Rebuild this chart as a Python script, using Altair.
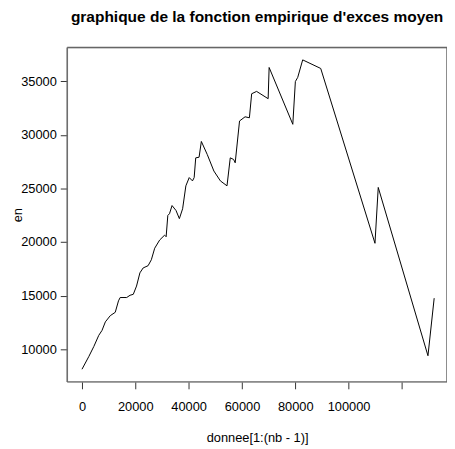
import altair as alt
import pandas as pd

x_vals = [0, 2590, 4440, 6290, 7510, 8770, 10620, 12470, 13690, 14320,
          16760, 18020, 19240, 20460, 21720, 22940, 24790, 26010, 27270, 29120,
          30970, 31560, 32190, 32820, 33780, 35260, 36520, 37740, 38960, 40220,
          41440, 42070, 42660, 43920, 44770, 46990, 49470, 51910, 54390, 55610,
          56870, 57460, 59090, 61160, 62790, 63640, 65490, 69820, 70190, 79070,
          80030, 80920, 82770, 89540, 109890, 111110, 129760, 132090]
y_vals = [8130, 9330, 10250, 11290, 11750, 12550, 13130, 13440, 14510, 14820,
          14820, 15030, 15120, 15890, 17120, 17580, 17790, 18340, 19420, 20180,
          20640, 20490, 22480, 22640, 23400, 22940, 22180, 23100, 25240, 26010,
          25700, 26010, 27850, 27910, 29380, 28160, 26620, 25700, 25240, 27850,
          27700, 27390, 31290, 31680, 31590, 33830, 34050, 33370, 36280, 30980,
          34970, 35360, 36990, 36190, 19880, 25090, 9390, 14760]

x_ticks = [0, 20000, 40000, 60000, 80000, 100000, 120000]
y_ticks = [10000, 15000, 20000, 25000, 30000, 35000]
x_domain = [-5550, 136900]
y_domain = [6950, 38150]

df = pd.DataFrame({"x": x_vals, "y": y_vals, "order": list(range(len(x_vals)))})

font = "Liberation Sans"
box = "#666666"
xscale = alt.Scale(domain=x_domain, nice=False, zero=False)
yscale = alt.Scale(domain=y_domain, nice=False, zero=False)

line = alt.Chart(df).mark_line(color="black", strokeWidth=1).encode(
    x=alt.X("x:Q", scale=xscale,
            axis=alt.Axis(values=x_ticks, format="d", grid=False, domain=False,
                          tickColor="#333", tickSize=7, labelPadding=12,
                          labelExpr="datum.value == 120000 ? '' : datum.label",
                          labelFont=font, labelFontSize=13, labelColor="black",
                          title="donnee[1:(nb - 1)]", titleFont=font, titleFontSize=13,
                          titleFontWeight="normal", titlePadding=18, titleColor="black")),
    y=alt.Y("y:Q", scale=yscale,
            axis=alt.Axis(values=y_ticks, format="d", grid=False, domain=False,
                          tickColor="#333", tickSize=7, labelPadding=4,
                          labelFont=font, labelFontSize=13, labelColor="black",
                          title="en", titleFont=font, titleFontSize=13,
                          titleFontWeight="normal", titleX=-50, titleBaseline="middle",
                          titleColor="black")),
    order="order:Q",
)

hdf = pd.DataFrame({"yv": y_domain})
vdf = pd.DataFrame({"xv": x_domain})
hrules = alt.Chart(hdf).mark_rule(color=box, strokeWidth=1.5).encode(
    y=alt.Y("yv:Q", scale=yscale))
vrules = alt.Chart(vdf).mark_rule(color=box, strokeWidth=1.5).encode(
    x=alt.X("xv:Q", scale=xscale))

chart = alt.layer(line, hrules, vrules).properties(
    width=385,
    height=339,
    title=alt.TitleParams("graphique de la fonction empirique d'exces moyen",
                          font=font, fontSize=15.7, fontWeight="bold", color="black",
                          anchor="middle", offset=21),
    autosize=alt.AutoSizeParams(type="none"),
    padding={"left": 60, "top": 37, "right": 0, "bottom": 62},
)

chart.save("out.html", embed_options={"renderer": "svg", "actions": False})
